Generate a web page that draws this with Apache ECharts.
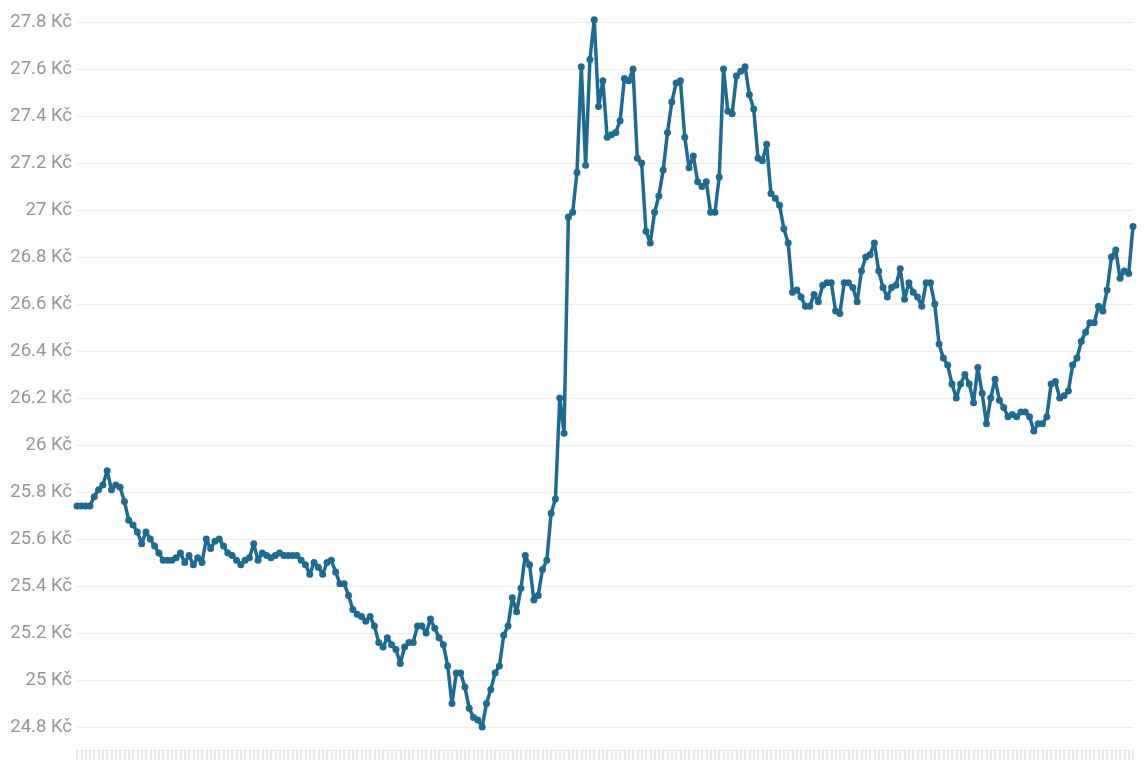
<!DOCTYPE html>
<html>
<head>
<meta charset="utf-8">
<script src="https://cdn.jsdelivr.net/npm/echarts@6/dist/echarts.min.js"></script>
<style>
html,body{margin:0;padding:0;background:#fff;}
#chart{width:1148px;height:765px;}
</style>
</head>
<body>
<div id="chart"></div>
<script>
const values = [
25.74,25.74,25.74,25.74,25.78,25.81,25.83,25.89,25.81,25.83,
25.82,25.76,25.68,25.66,25.63,25.58,25.63,25.60,25.57,25.54,
25.51,25.51,25.51,25.52,25.54,25.50,25.53,25.49,25.52,25.50,
25.60,25.56,25.59,25.60,25.57,25.54,25.53,25.51,25.49,25.51,
25.52,25.58,25.51,25.54,25.53,25.52,25.53,25.54,25.53,25.53,
25.53,25.53,25.51,25.49,25.45,25.50,25.48,25.45,25.50,25.51,
25.46,25.41,25.41,25.36,25.30,25.28,25.27,25.25,25.27,25.23,
25.16,25.14,25.18,25.15,25.13,25.07,25.14,25.16,25.16,25.23,
25.23,25.20,25.26,25.22,25.18,25.15,25.06,24.90,25.03,25.03,
24.97,24.88,24.84,24.83,24.80,24.90,24.96,25.03,25.06,25.19,
25.23,25.35,25.29,25.39,25.53,25.49,25.34,25.36,25.47,25.51,
25.71,25.77,26.20,26.05,26.97,26.99,27.16,27.61,27.19,27.64,
27.81,27.44,27.55,27.31,27.32,27.33,27.38,27.56,27.55,27.60,
27.22,27.20,26.91,26.86,26.99,27.06,27.17,27.33,27.46,27.54,
27.55,27.31,27.18,27.23,27.12,27.10,27.12,26.99,26.99,27.14,
27.60,27.42,27.41,27.57,27.59,27.61,27.49,27.43,27.22,27.21,
27.28,27.07,27.05,27.02,26.92,26.86,26.65,26.66,26.63,26.59,
26.59,26.64,26.61,26.68,26.69,26.69,26.57,26.56,26.69,26.69,
26.67,26.61,26.74,26.80,26.81,26.86,26.74,26.67,26.63,26.67,
26.68,26.75,26.62,26.69,26.65,26.63,26.59,26.69,26.69,26.60,
26.43,26.37,26.34,26.26,26.20,26.26,26.30,26.26,26.18,26.33,
26.22,26.09,26.20,26.28,26.19,26.16,26.12,26.13,26.12,26.14,
26.14,26.12,26.06,26.09,26.09,26.12,26.26,26.27,26.20,26.21,
26.23,26.34,26.37,26.44,26.48,26.52,26.52,26.59,26.57,26.66,
26.80,26.83,26.71,26.74,26.73,26.93
];
const categories = values.map((_, i) => String(i + 1));
const currencySuffix = ' Kč';

const chart = echarts.init(document.getElementById('chart'), null, {renderer: 'canvas'});
chart.setOption({
  animation: false,
  backgroundColor: '#ffffff',
  grid: {left: 77, right: 15, top: 22, bottom: 38, containLabel: false},
  xAxis: {
    type: 'category',
    data: categories,
    boundaryGap: false,
    offset: 23,
    axisLine: {show: true, lineStyle: {color: '#eeeeee', width: 1}},
    axisTick: {show: true, interval: 0, length: 10, lineStyle: {color: '#e2e2e2', width: 1.5}},
    axisLabel: {show: false},
    splitLine: {show: false}
  },
  yAxis: {
    type: 'value',
    min: 24.8,
    max: 27.8,
    interval: 0.2,
    axisLine: {show: false},
    axisTick: {show: false},
    splitLine: {show: true, lineStyle: {color: '#ececec', width: 1}},
    axisLabel: {
      margin: 5,
      color: '#959595',
      fontFamily: 'Roboto',
      fontSize: 18.5,
      formatter: v => String(Math.round(v * 10) / 10) + currencySuffix
    }
  },
  series: [{
    type: 'line',
    data: values,
    clip: false,
    symbol: 'circle',
    symbolSize: 7,
    showSymbol: true,
    showAllSymbol: true,
    lineStyle: {color: '#1f6a90', width: 3.5},
    itemStyle: {color: '#1f6a90'}
  }]
});
</script>
</body>
</html>
